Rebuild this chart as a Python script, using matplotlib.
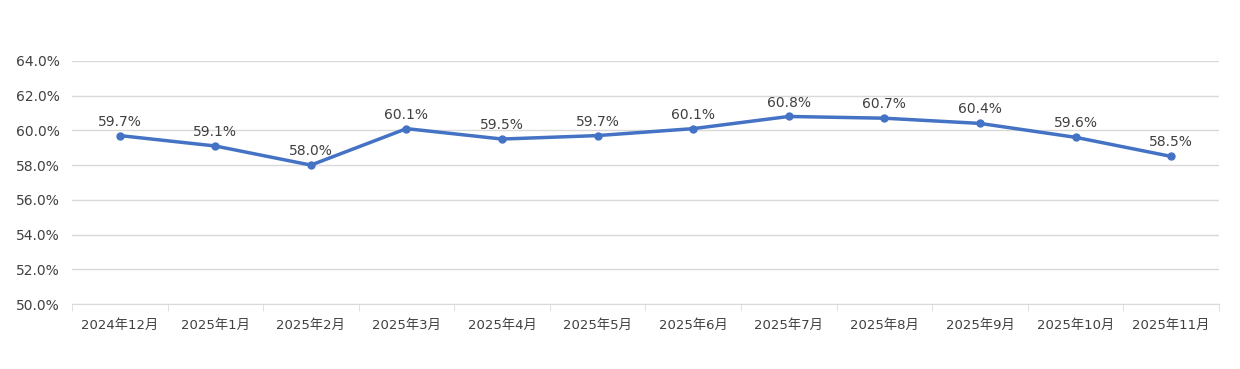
import matplotlib.pyplot as plt
import numpy as np

plt.rcParams['font.family'] = ['DejaVu Sans', 'Noto Sans CJK JP']

months = ['2024年12月', '2025年1月', '2025年2月', '2025年3月', '2025年4月', '2025年5月',
          '2025年6月', '2025年7月', '2025年8月', '2025年9月', '2025年10月', '2025年11月']
rates = [59.7, 59.1, 58.0, 60.1, 59.5, 59.7, 60.1, 60.8, 60.7, 60.4, 59.6, 58.5]
yticks = [50, 52, 54, 56, 58, 60, 62, 64]

fig = plt.figure(figsize=(12.4, 3.69), dpi=100)
ax = fig.add_axes([0.058, 0.176, 0.925, 0.659])

x = np.arange(len(months))
ax.plot(x, rates, color='#4472C4', linewidth=2.5, marker='o', markersize=5, zorder=3)

for xi, v in zip(x, rates):
    ax.annotate(f'{v:.1f}%', (xi, v), xytext=(0, 5), textcoords='offset points',
                ha='center', va='bottom', fontsize=10, color='#404040')

ax.set_xlim(-0.5, len(months) - 0.5)
ax.set_ylim(50, 64)
ax.set_yticks(yticks)
ax.set_yticklabels([f'{t:.1f}%' for t in yticks], fontsize=10, color='#404040')
ax.yaxis.grid(True, color='#d9d9d9', linewidth=1)
ax.set_axisbelow(True)
ax.tick_params(axis='y', length=0, pad=9)

ax.set_xticks(x)
ax.set_xticklabels(months, fontsize=9.5, color='#404040')
ax.set_xticks(np.arange(-0.5, len(months), 1), minor=True)
ax.tick_params(axis='x', which='major', length=0, pad=11)
ax.tick_params(axis='x', which='minor', length=5, color='#d9d9d9')

for s in ['top', 'right', 'left']:
    ax.spines[s].set_visible(False)
ax.spines['bottom'].set_color('#d9d9d9')

fig.savefig('out.png', dpi=100, facecolor='white')
